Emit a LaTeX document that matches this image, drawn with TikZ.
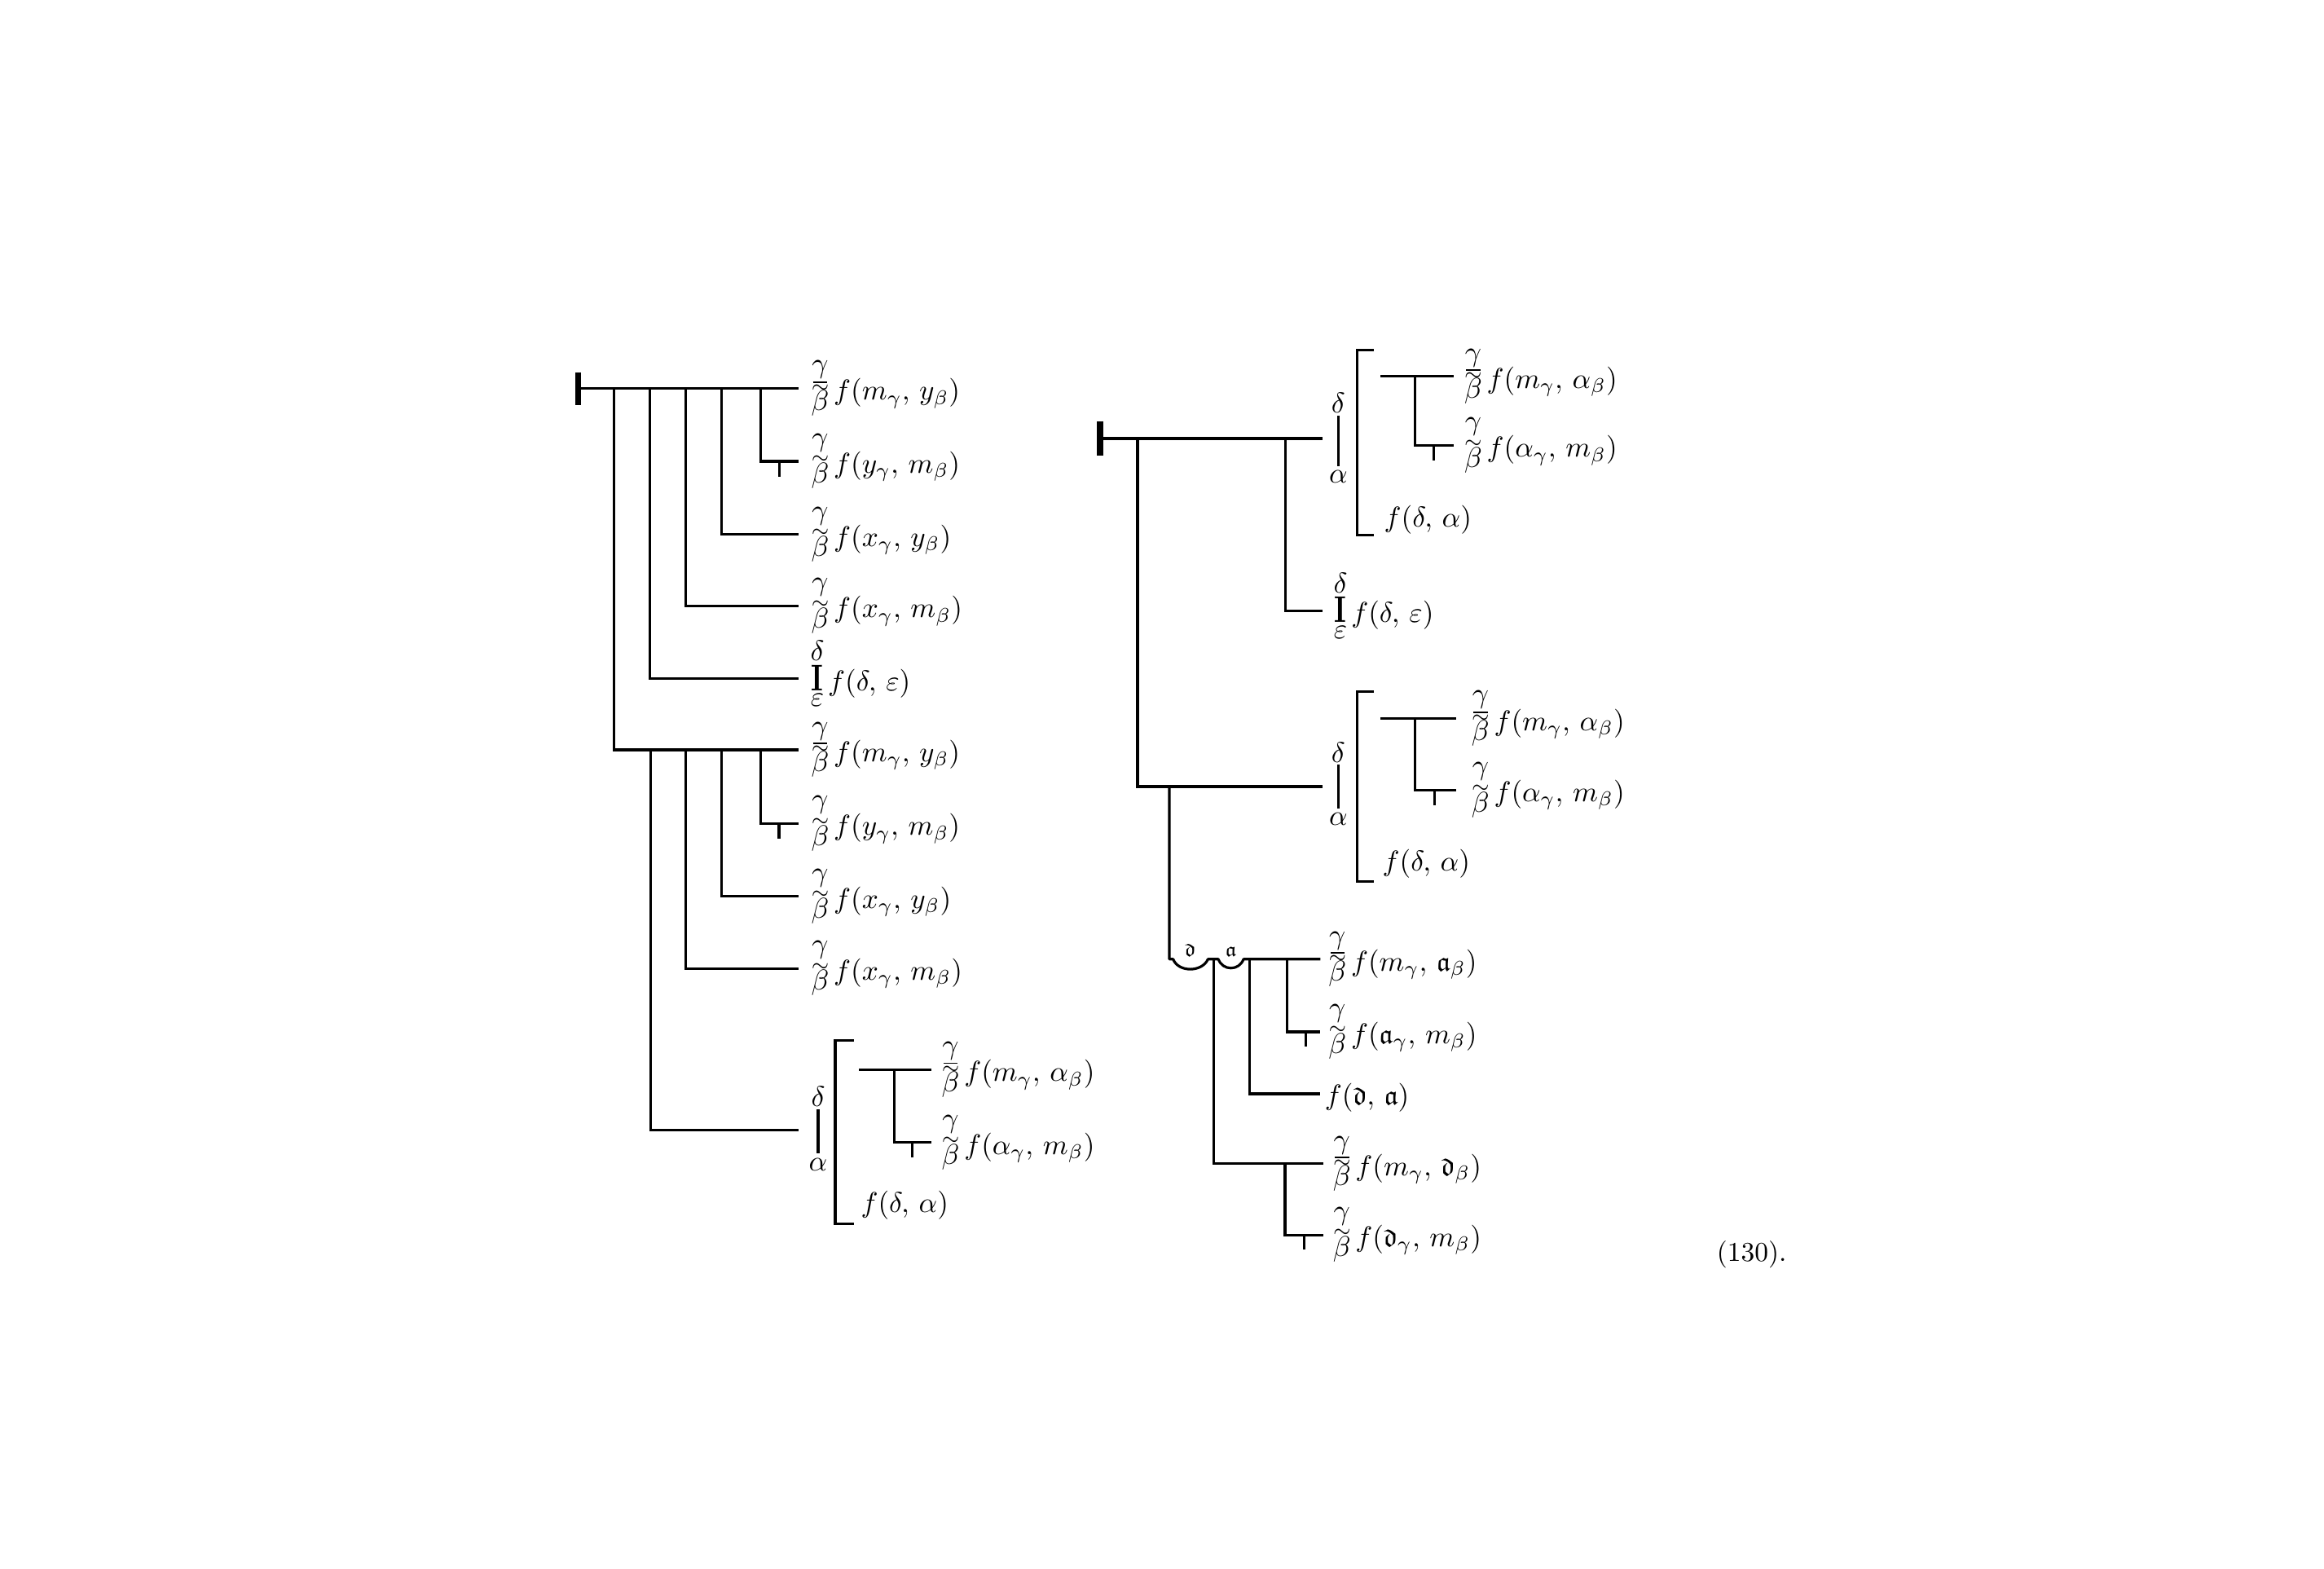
\documentclass[tikz,border=0pt]{standalone}
\usepackage{amsmath,amssymb,graphicx}
\newcommand{\mkT}{\raisebox{3.3pt}{$\scriptstyle\sim$}}
\newcommand{\mkB}{\ooalign{\hidewidth\raisebox{6.1pt}{\rule{5.0pt}{0.5pt}}\hidewidth\cr\raisebox{2.7pt}{$\scriptstyle\sim$}\cr}}
\newcommand{\GB}[1]{\hbox{\ooalign{\hidewidth\raisebox{9.4pt}{$\gamma$}\hidewidth\cr\raisebox{-3.5pt}{$\beta$}\cr\hidewidth#1\hidewidth\cr}}}
\newcommand{\DIE}{\hbox{\ooalign{\hidewidth\raisebox{10.4pt}{$\delta$}\hidewidth\cr\scalebox{1}[1.35]{\bfseries I}\cr\hidewidth\raisebox{-5.6pt}{$\varepsilon$}\hidewidth\cr}}}
\newcommand{\FB}[1]{$\GB{\mkB}\,f(#1)$}
\newcommand{\FT}[1]{$\GB{\mkT}\,f(#1)$}
\tikzset{
  ln/.style={line width=0.9pt, line cap=rect},
  judg/.style={line width=2.2pt},
  lab/.style={anchor=base west, inner sep=0pt, yshift=-4.1pt, font=\fontsize{9.6}{11}\selectfont},
  labc/.style={anchor=west, inner sep=0pt, font=\fontsize{9.6}{11}\selectfont},
  gl/.style={inner sep=0pt, anchor=center, font=\fontsize{9.6}{11}\selectfont},
  fk/.style={inner sep=0pt, anchor=base}
}
\begin{document}
\begin{tikzpicture}[x=0.01819cm, y=-0.01819cm]
\useasboundingbox (0,0) rectangle (1568,1058);
\fill[white] (0,0) rectangle (1568,1058);
% ================= LEFT =================
\coordinate (j1t) at (390,251); \coordinate (j1b) at (390,273);
\draw[judg] (j1t) -- (j1b);
\coordinate (a0) at (390,262); \coordinate (a1) at (538,262);
\draw[ln] (a0) -- (a1);
\coordinate (v1) at (414.3,262); \coordinate (v2) at (438.5,262);
\coordinate (v3) at (462.8,262); \coordinate (v4) at (487,262);
\coordinate (v5) at (513,262);
\coordinate (e2) at (538,311.2); \coordinate (e3) at (538,360.5);
\coordinate (e4) at (538,408.8); \coordinate (e5) at (538,457.8);
\coordinate (b0) at (538,505.8);
\draw[ln] (v5) |- (e2);
\draw[ln] (v4) |- (e3);
\draw[ln] (v3) |- (e4);
\draw[ln] (v2) |- (e5);
\draw[ln] (v1) |- (b0);
\coordinate (n1t) at (525.8,311.2); \coordinate (n1b) at (525.8,320.5);
\draw[ln] (n1t) -- (n1b);
\node[lab] (r1) at (547,262) {\FB{m_\gamma,\, y_\beta}};
\node[lab] (r2) at (547,311.2) {\FT{y_\gamma,\, m_\beta}};
\node[lab] (r3) at (547,360.5) {\FT{x_\gamma,\, y_\beta}};
\node[lab] (r4) at (547,408.8) {\FT{x_\gamma,\, m_\beta}};
\node[lab] (r5) at (547,457.8) {$\DIE\,f(\delta,\, \varepsilon)$};
% second block
\coordinate (w2) at (438.8,505.8); \coordinate (w3) at (462.8,505.8);
\coordinate (w4) at (487,505.8); \coordinate (w5) at (513,505.8);
\coordinate (f2) at (538,555.6); \coordinate (f3) at (538,604.7);
\coordinate (f4) at (538,653.3); \coordinate (f5) at (538,762.5);
\draw[ln] (w5) |- (f2);
\draw[ln] (w4) |- (f3);
\draw[ln] (w3) |- (f4);
\draw[ln] (w2) |- (f5);
\coordinate (n2t) at (525.6,555.6); \coordinate (n2b) at (525.6,564.6);
\draw[ln] (n2t) -- (n2b);
\node[lab] (r6) at (547,505.8) {\FB{m_\gamma,\, y_\beta}};
\node[lab] (r7) at (547,555.6) {\FT{y_\gamma,\, m_\beta}};
\node[lab] (r8) at (547,604.7) {\FT{x_\gamma,\, y_\beta}};
\node[lab] (r9) at (547,653.3) {\FT{x_\gamma,\, m_\beta}};
% bottom generality
\node[gl] (gd1) at (552,739.5) {$\delta$};
\node[gl] (ga1) at (552,785.5) {$\alpha$};
\coordinate (gl1t) at (552,749); \coordinate (gl1b) at (552,777);
\draw[ln] (gl1t) -- (gl1b);
\coordinate (k1a) at (576,702); \coordinate (k1b) at (563.5,702);
\coordinate (k1c) at (563.5,825.6); \coordinate (k1d) at (576,825.6);
\draw[ln, line cap=butt] (k1a) -- (k1b) -- (k1c) -- (k1d);
\coordinate (i1a) at (580.5,721.6); \coordinate (i1b) at (627.6,721.6);
\coordinate (i1c) at (603.4,721.6); \coordinate (i1d) at (627.6,770.6);
\draw[ln] (i1a) -- (i1b);
\draw[ln] (i1c) |- (i1d);
\coordinate (n3t) at (615.6,770.6); \coordinate (n3b) at (615.6,779.8);
\draw[ln] (n3t) -- (n3b);
\node[lab] (r10) at (635,721.6) {\FB{m_\gamma,\, \alpha_\beta}};
\node[lab] (r11) at (635,770.6) {\FT{\alpha_\gamma,\, m_\beta}};
\node[labc] (r12) at (580.5,812.7) {$f(\delta,\, \alpha)$};
% ================= RIGHT =================
\coordinate (j2t) at (742.2,284); \coordinate (j2b) at (742.2,307.5);
\draw[judg] (j2t) -- (j2b);
\coordinate (c0) at (742.2,295.8); \coordinate (c1) at (891.7,295.8);
\draw[ln] (c0) -- (c1);
\coordinate (u1) at (767.5,295.8); \coordinate (u2) at (867.4,295.8);
\coordinate (g1) at (891.7,412); \coordinate (g2) at (891.7,530.5);
\draw[ln] (u2) |- (g1);
\draw[ln] (u1) |- (g2);
% top generality
\node[gl] (gd2) at (903,272) {$\delta$};
\node[gl] (ga2) at (903,321.6) {$\alpha$};
\coordinate (gl2t) at (903,281.3); \coordinate (gl2b) at (903,313.4);
\draw[ln] (gl2t) -- (gl2b);
\coordinate (k2a) at (927,236); \coordinate (k2b) at (915.7,236);
\coordinate (k2c) at (915.7,361); \coordinate (k2d) at (927,361);
\draw[ln, line cap=butt] (k2a) -- (k2b) -- (k2c) -- (k2d);
\coordinate (i2a) at (932,253.8); \coordinate (i2b) at (980,253.8);
\coordinate (i2c) at (954.5,253.8); \coordinate (i2d) at (980,300.5);
\draw[ln] (i2a) -- (i2b);
\draw[ln] (i2c) |- (i2d);
\coordinate (n4t) at (967.3,300.5); \coordinate (n4b) at (967.3,309.6);
\draw[ln] (n4t) -- (n4b);
\node[lab] (s1) at (987.6,253.8) {\FB{m_\gamma,\, \alpha_\beta}};
\node[lab] (s2) at (987.6,300.5) {\FT{\alpha_\gamma,\, m_\beta}};
\node[labc] (s3) at (933.5,350.8) {$f(\delta,\, \alpha)$};
\node[lab] (s4) at (900,412) {$\DIE\,f(\delta,\, \varepsilon)$};
% second generality
\node[gl] (gd3) at (903,507.6) {$\delta$};
\node[gl] (ga3) at (903,552.5) {$\alpha$};
\coordinate (gl3t) at (903,516.8); \coordinate (gl3b) at (903,544.3);
\draw[ln] (gl3t) -- (gl3b);
\coordinate (k3a) at (927,466.4); \coordinate (k3b) at (915.7,466.4);
\coordinate (k3c) at (915.7,594.6); \coordinate (k3d) at (927,594.6);
\draw[ln, line cap=butt] (k3a) -- (k3b) -- (k3c) -- (k3d);
\coordinate (i3a) at (932.4,484.7); \coordinate (i3b) at (981.4,484.7);
\coordinate (i3c) at (954.5,484.7); \coordinate (i3d) at (981.4,532.9);
\draw[ln] (i3a) -- (i3b);
\draw[ln] (i3c) |- (i3d);
\coordinate (n5t) at (968,532.9); \coordinate (n5b) at (968,542.2);
\draw[ln] (n5t) -- (n5b);
\node[lab] (s5) at (992.5,484.7) {\FB{m_\gamma,\, \alpha_\beta}};
\node[lab] (s6) at (992.5,532.9) {\FT{\alpha_\gamma,\, m_\beta}};
\node[labc] (s7) at (932.4,582.7) {$f(\delta,\, \alpha)$};
% concavities
\coordinate (h0) at (788.9,530.5); \coordinate (h1) at (788.9,647);
\coordinate (h2) at (818.7,647); \coordinate (h3) at (890,647);
\draw[ln, line join=round] (h0) -- (h1) -- (791.5,647)
  .. controls (795,656) and (811,656) .. (815,647) -- (h2) -- (822,647)
  .. controls (825,655) and (836,655) .. (839,647) -- (h3);
\node[fk] (fd) at (803,645) {$\scriptstyle\mathfrak{d}$};
\node[fk] (fa) at (830.5,645) {$\scriptstyle\mathfrak{a}$};
\coordinate (p1) at (843,647); \coordinate (p2) at (868.6,647);
\coordinate (q1) at (890,737.8); \coordinate (q2) at (890,696);
\draw[ln] (p2) |- (q2);
\draw[ln] (p1) |- (q1);
\coordinate (n6t) at (880.8,696); \coordinate (n6b) at (880.8,705.2);
\draw[ln] (n6t) -- (n6b);
\node[lab] (t1) at (896,647) {\FB{m_\gamma,\, \mathfrak{a}_\beta}};
\node[lab] (t2) at (896,696) {\FT{\mathfrak{a}_\gamma,\, m_\beta}};
\node[labc] (t3) at (893.5,740.5) {$f(\mathfrak{d},\, \mathfrak{a})$};
\coordinate (q3) at (892,785);
\draw[ln] (h2) |- (q3);
\coordinate (p3) at (867,785); \coordinate (q4) at (892,833);
\draw[ln] (p3) |- (q4);
\coordinate (n7t) at (880,833); \coordinate (n7b) at (880,842.2);
\draw[ln] (n7t) -- (n7b);
\node[lab] (t4) at (899,785) {\FB{m_\gamma,\, \mathfrak{d}_\beta}};
\node[lab] (t5) at (899,833) {\FT{\mathfrak{d}_\gamma,\, m_\beta}};
% number
\node[anchor=base west, inner sep=0pt] (num) at (1158,851) {\fontsize{9.5}{11}\selectfont (130).};
\end{tikzpicture}
\end{document}
